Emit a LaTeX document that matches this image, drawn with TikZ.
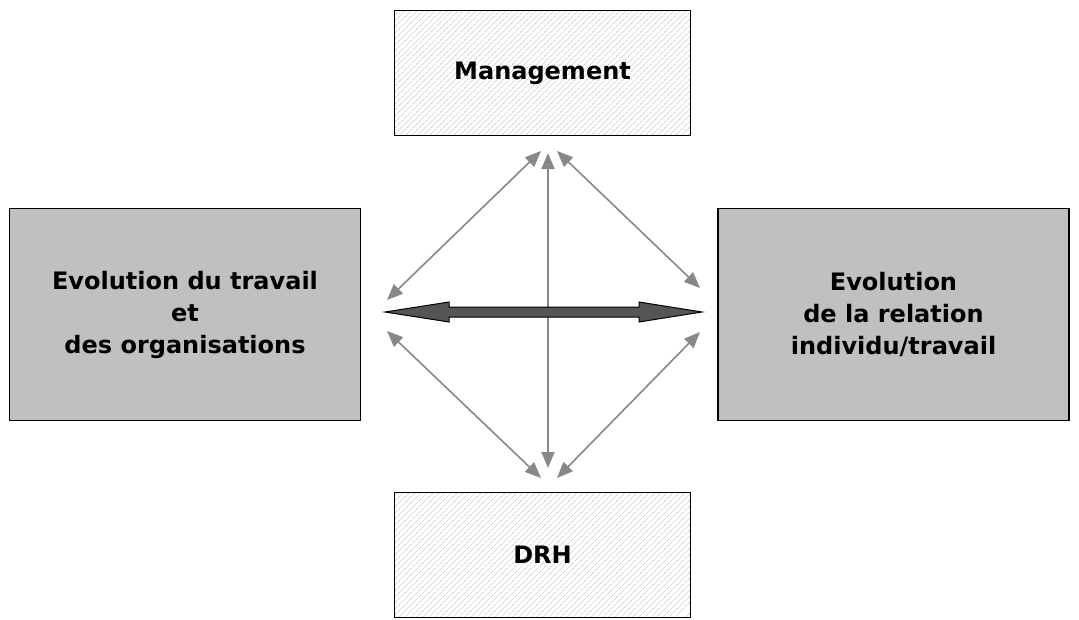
\documentclass[tikz,border=0pt]{standalone}
\usepackage{fontspec}
\setmainfont{DejaVu Sans}
\usetikzlibrary{arrows.meta,patterns.meta}
\definecolor{boxgray}{RGB}{192,192,192}
\definecolor{arrgray}{RGB}{136,136,136}
\definecolor{bigarr}{RGB}{85,85,85}
\begin{document}
\begin{tikzpicture}[x=1pt,y=-1pt,
  hatchbox/.style={draw=black,line width=1.6pt,minimum width=296pt,minimum height=125pt,
    pattern={Lines[angle=45,distance=4pt,line width=0.7pt]},pattern color=black!18,
    font=\bfseries\fontsize{24}{29}\selectfont,inner sep=0pt},
  graybox/.style={draw=black,line width=1.5pt,fill=boxgray,minimum width=351pt,minimum height=212pt,
    font=\bfseries\fontsize{24}{32}\selectfont,align=center,inner sep=0pt},
  link/.style={draw=arrgray,line width=1.6pt,{Triangle[length=16pt,width=13pt]}-{Triangle[length=16pt,width=13pt]}},
  bigarrow/.style={draw=black,line width=1pt,fill=bigarr,line join=miter}]
\useasboundingbox (0,0) rectangle (1079,619);
\node[hatchbox] (mgmt) at (542.5,73) {Management};
\node[hatchbox] (drh) at (542.5,555) {DRH};
\node[graybox] (left) at (185,314.5) {Evolution du travail\\et\\des organisations};
\node[graybox] (right) at (893.5,314.5) {Evolution\\de la relation\\individu/travail};
% free ends of connectors
\coordinate (ul1) at (387,300);
\coordinate (ul2) at (541,151);
\coordinate (ur1) at (557,151);
\coordinate (ur2) at (700,288);
\coordinate (v1) at (548,153);
\coordinate (v2) at (548,468);
\coordinate (ll1) at (387,331);
\coordinate (ll2) at (541,478);
\coordinate (lr1) at (700,332);
\coordinate (lr2) at (557,478);
\draw[link] (ul1) -- (ul2);
\draw[link] (ur1) -- (ur2);
\draw[link] (v1) -- (v2);
\draw[link] (ll1) -- (ll2);
\draw[link] (lr1) -- (lr2);
% thick double arrow
\coordinate (ta) at (385,312);
\coordinate (tb) at (702,312);
\draw[bigarrow] (ta) -- (449,302) -- (449,307) -- (639,307) -- (639,302) -- (tb)
  -- (639,322) -- (639,317) -- (449,317) -- (449,322) -- cycle;
\end{tikzpicture}
\end{document}
